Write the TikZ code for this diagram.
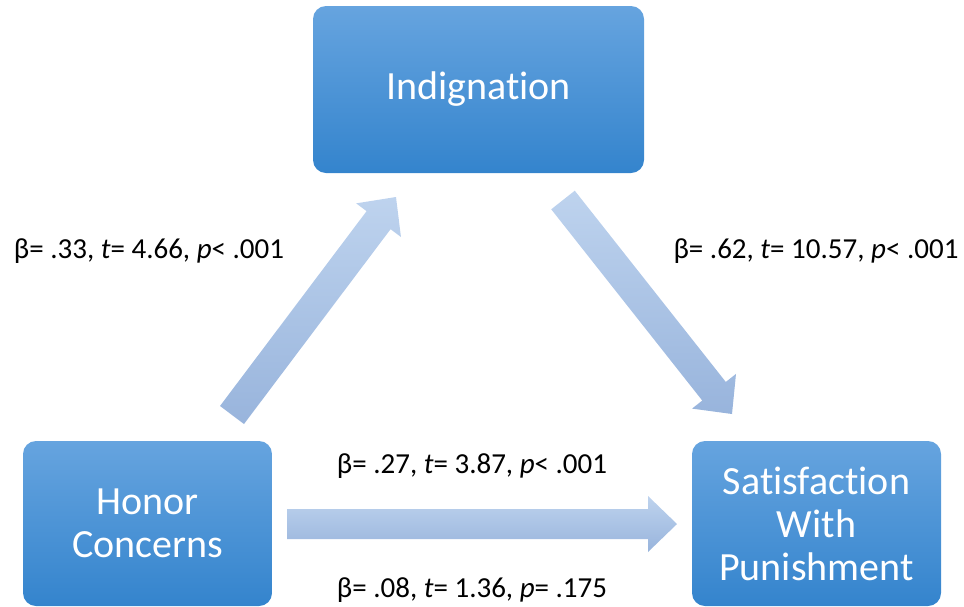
\documentclass[tikz,border=0pt]{standalone}
\usepackage{fontspec}
\setmainfont{Carlito}[Ligatures=NoCommon]
\usetikzlibrary{calc}
\definecolor{boxtop}{HTML}{66A4DF}
\definecolor{boxbot}{HTML}{3484CD}
\definecolor{arrtop}{HTML}{BED3EE}
\definecolor{arrbot}{HTML}{98B4DC}
\tikzset{
  varbox/.style={rounded corners=13pt, top color=boxtop, bottom color=boxbot, draw=none,
    text=white, font=\fontsize{40}{43}\selectfont, align=center,
    minimum width=249pt, minimum height=165pt, inner sep=0pt},
  stat/.style={font=\fontsize{29}{33}\selectfont, anchor=base, inner sep=0pt, text=black},
  blockarr/.style={top color=arrtop, bottom color=arrbot, draw=none}
}
\newcommand{\blockarrow}[2]{%
  \path[blockarr]
    ($(#1)!15pt!90:(#2)$) --
    ($(#2)!29pt!(#1)!15pt!90:(#2)$) --
    ($(#2)!29pt!(#1)!28pt!90:(#2)$) --
    (#2) --
    ($(#2)!29pt!(#1)!28pt!-90:(#2)$) --
    ($(#2)!29pt!(#1)!15pt!-90:(#2)$) --
    ($(#1)!15pt!-90:(#2)$) -- cycle;%
}
\begin{document}
\begin{tikzpicture}[x=1pt,y=-1pt]
\useasboundingbox (0,0) rectangle (964,606);
% boxes
\node[varbox, minimum width=331pt, minimum height=167pt] (ind) at (478.5,89.5) {Indignation};
\node[varbox] (hon) at (147.5,523.5) {Honor\\Concerns};
\node[varbox] (sat) at (816.5,523.5) {Satisfaction\\With\\Punishment};
% arrows
\coordinate (h1s) at (287,524);
\coordinate (h1e) at (677,524);
\coordinate (l1s) at (232,415);
\coordinate (l1e) at (396,197);
\coordinate (r1s) at (563,200);
\coordinate (r1e) at (732,414);
\blockarrow{l1s}{l1e}
\blockarrow{r1s}{r1e}
\blockarrow{h1s}{h1e}
% statistics
\node[stat] (s1) at (149,258) {β= .33, \textit{t}= 4.66, \textit{p}< .001};
\node[stat] (s2) at (816,258) {β= .62, \textit{t}= 10.57, \textit{p}< .001};
\node[stat] (s3) at (472,473) {β= .27, \textit{t}= 3.87, \textit{p}< .001};
\node[stat] (s4) at (472,597) {β= .08, \textit{t}= 1.36, \textit{p}= .175};
\end{tikzpicture}
\end{document}
